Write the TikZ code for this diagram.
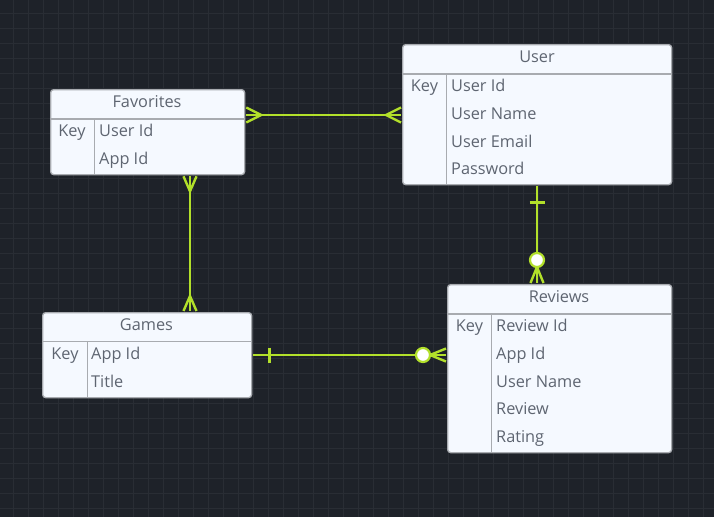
\documentclass[tikz,border=0pt]{standalone}
\usepackage{fontspec}
\setmainfont{Open Sans}
\usetikzlibrary{calc}
\begin{document}
\begin{tikzpicture}[x=1pt,y=-1pt,
  tbl/.style={draw=bordergray, line width=1.3pt, fill=cardfill, rounded corners=3pt, minimum width=#1, inner sep=0pt, anchor=north west},
  ttl/.style={text=txtgray, font=\fontsize{16.3}{18}\selectfont, anchor=base},
  fld/.style={text=txtgray, font=\fontsize{16.3}{18}\selectfont, anchor=base west, inner sep=0pt},
  keyt/.style={text=txtgray, font=\fontsize{16.3}{18}\selectfont, anchor=base, inner sep=0pt},
  sep/.style={draw=bordergray, line width=1.3pt},
  rel/.style={draw=lime, line width=2.4pt},
  ring/.style={draw=lime, line width=2.2pt, fill=white, circle, minimum size=14pt, inner sep=0pt},
]
\definecolor{bg}{HTML}{1E2229}
\definecolor{gridc}{HTML}{292D34}
\definecolor{cardfill}{HTML}{F5F9FF}
\definecolor{bordergray}{HTML}{A8ABB0}
\definecolor{txtgray}{HTML}{5E6571}
\definecolor{lime}{HTML}{B2E02A}
\useasboundingbox (0,0) rectangle (714,517);
\fill[bg] (0,0) rectangle (714,517);
\foreach \k in {0,...,47} {\draw[gridc, line width=0.8pt] (13+15*\k,0) -- (13+15*\k,517);}
\foreach \k in {0,...,34} {\draw[gridc, line width=0.8pt] (0,13+15*\k) -- (714,13+15*\k);}

% ---------- Favorites ----------
\node[tbl=194pt, minimum height=85pt] (fav) at (50,89) {};
\draw[sep] (50,119) -- (244,119);
\draw[sep] (94.5,119) -- (94.5,174);
\node[ttl] (favt) at (147,107) {Favorites};
\node[keyt] (favk) at (72,136) {Key};
\node[fld] (fav1) at (99,136) {User Id};
\node[fld] (fav2) at (99,164) {App Id};

% ---------- User ----------
\node[tbl=269pt, minimum height=140pt] (usr) at (402,44) {};
\draw[sep] (402,74) -- (671,74);
\draw[sep] (446.5,74) -- (446.5,184);
\node[ttl] (usrt) at (537,62) {User};
\node[keyt] (usrk) at (424.5,91) {Key};
\node[fld] (usr1) at (451,91) {User Id};
\node[fld] (usr2) at (451,119) {User Name};
\node[fld] (usr3) at (451,147) {User Email};
\node[fld] (usr4) at (451,174) {Password};

% ---------- Games ----------
\node[tbl=209pt, minimum height=85pt] (gam) at (42,312) {};
\draw[sep] (42,341.5) -- (251,341.5);
\draw[sep] (87.5,341.5) -- (87.5,397);
\node[ttl] (gamt) at (146.5,330) {Games};
\node[keyt] (gamk) at (65,359) {Key};
\node[fld] (gam1) at (91,359) {App Id};
\node[fld] (gam2) at (91,387) {Title};

% ---------- Reviews ----------
\node[tbl=224pt, minimum height=168pt] (rev) at (447,284) {};
\draw[sep] (447,314) -- (671,314);
\draw[sep] (491.5,314) -- (491.5,452);
\node[ttl] (revt) at (559,302) {Reviews};
\node[keyt] (revk) at (469.5,331) {Key};
\node[fld] (rev1) at (496,331) {Review Id};
\node[fld] (rev2) at (496,359) {App Id};
\node[fld] (rev3) at (496,387) {User Name};
\node[fld] (rev4) at (496,414) {Review};
\node[fld] (rev5) at (496,442) {Rating};

% ---------- Favorites -- User (many to many) ----------
\coordinate (fuA) at ($(fav.north east)+(1,26)$);
\coordinate (fuB) at ($(usr.north west)+(-1,71)$);
\draw[rel] (fuA) -- (fuB);
\draw[rel] (fuA) ++(0,-7.5) -- ++(15,7.5) -- ++(-15,7.5);
\draw[rel] (fuB) ++(0,-7.5) -- ++(-15,7.5) -- ++(15,7.5);

% ---------- Favorites -- Games (many to many) ----------
\coordinate (fgA) at ($(fav.south west)+(140,1)$);
\coordinate (fgB) at ($(gam.north west)+(148,-1)$);
\draw[rel] (fgA) -- (fgB);
\draw[rel] (fgA) ++(-6.5,0) -- ++(6.5,15) -- ++(6.5,-15);
\draw[rel] (fgB) ++(-6.5,0) -- ++(6.5,-15) -- ++(6.5,15);

% ---------- User -- Reviews (one to zero-or-many) ----------
\coordinate (urA) at ($(usr.south west)+(135,1)$);
\coordinate (urB) at ($(rev.north west)+(90,-1)$);
\draw[rel] (urA) -- (urB);
\draw[rel] (urA) ++(-7.5,16) -- ++(15,0);
\draw[rel] (urB) ++(-6.5,0) -- ++(6.5,-16) -- ++(6.5,16);
\node[ring] (urO) at ($(urB)+(0,-23)$) {};

% ---------- Games -- Reviews (one to zero-or-many) ----------
\coordinate (grA) at ($(gam.north east)+(1,43)$);
\coordinate (grB) at ($(rev.north west)+(-1,71)$);
\draw[rel] (grA) -- (grB);
\draw[rel] (grA) ++(16,-7.5) -- ++(0,15);
\draw[rel] (grB) ++(0,-6.5) -- ++(-16,6.5) -- ++(16,6.5);
\node[ring] (grO) at ($(grB)+(-23,0)$) {};
\end{tikzpicture}
\end{document}
